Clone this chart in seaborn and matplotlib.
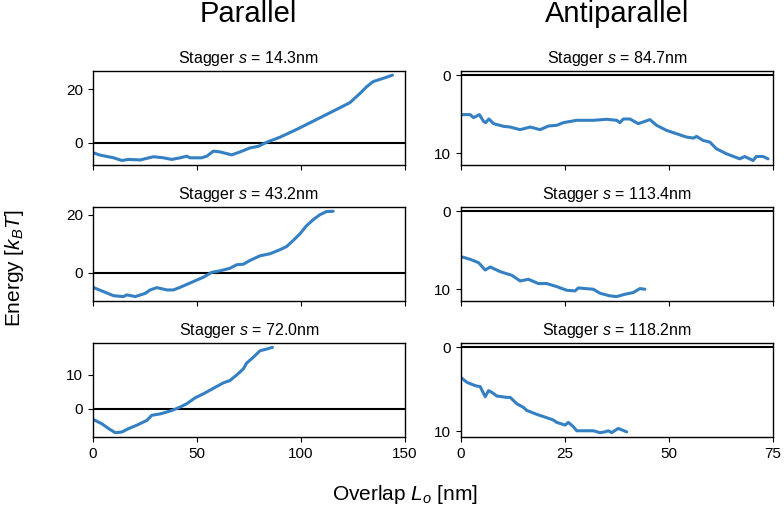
import numpy as np
import pandas as pd
import matplotlib
matplotlib.use("Agg")
import matplotlib.pyplot as plt
import seaborn as sns

# ============================
# DATA
# ============================
staggers_par = [14.3, 43.2, 72.0]
staggers_anti = [84.7, 113.4, 118.2]

par1_x = [0, 3.5, 9.9, 13.9, 17.1, 22.7, 29.1, 33.9, 37.9, 41.9, 45.1, 46.7, 52.3, 54.7, 57.9,
          61.1, 66.7, 70.7, 75.5, 79.5, 83.5, 89.9, 97.9, 105.9, 112.3, 118.7, 123.5, 128.3,
          131.5, 134.7, 139.5, 144.0]
par1_y = [-3.7, -4.6, -5.6, -6.6, -6.2, -6.4, -5.2, -5.6, -6.2, -5.6, -5.0, -5.6, -5.6, -5.0, -3.1,
          -3.4, -4.5, -3.4, -1.9, -1.3, 0.2, 2.1, 5.0, 8.1, 10.6, 13.1, 15.0, 18.4,
          20.9, 22.9, 24.1, 25.3]

par2_x = [0, 5.1, 9.9, 14.7, 16.3, 20.3, 25.1, 27.5, 30.7, 35.5, 38.7, 41.9, 48.3, 53.1, 57.1,
          61.1, 65.9, 69.1, 72.3, 75.5, 80.3, 85.1, 89.9, 93.1, 96.3, 99.5, 102.7, 105.9,
          109.1, 112.3, 115.5]
par2_y = [-5.1, -6.6, -8.0, -8.3, -7.7, -8.3, -7.2, -6.0, -5.2, -6.0, -6.0, -5.1, -3.1, -1.6, 0.1,
          0.6, 1.5, 2.7, 2.9, 4.2, 5.8, 6.5, 7.9, 9.0, 11.1, 13.4, 16.2, 18.3,
          20.0, 21.1, 21.2]

par3_x = [0, 4.3, 7.5, 10.7, 13.9, 17.1, 21.1, 25.9, 28.3, 32.3, 37.9, 41.9, 45.1, 49.1, 53.1,
          57.9, 62.7, 65.9, 69.1, 72.3, 73.9, 77.1, 80.3, 83.5, 86.3]
par3_y = [-3.1, -4.4, -5.8, -7.0, -6.8, -5.8, -4.8, -3.4, -1.9, -1.5, -0.5, 0.5, 1.5, 3.2, 4.4,
          6.0, 7.6, 8.3, 9.9, 11.7, 13.4, 15.1, 17.0, 17.5, 18.0]

anti1_x = [0, 2.2, 3.0, 4.4, 5.4, 5.9, 6.7, 7.8, 10.2, 11.8, 14.2, 16.6, 19.0, 21.0, 23.0, 24.6,
           27.8, 31.8, 35.0, 37.4, 38.2, 39.0, 40.6, 42.6, 45.4, 47.0, 49.4, 51.8, 54.2, 55.9,
           56.6, 58.2, 59.8, 61.4, 63.8, 67.0, 68.2, 70.2, 71.0, 72.6, 73.8]
anti1_y = [5.06, 5.06, 5.45, 5.06, 5.92, 6.09, 5.62, 6.22, 6.56, 6.65, 6.99, 6.65, 6.99, 6.52,
           6.43, 6.09, 5.79, 5.79, 5.66, 5.79, 6.09, 5.62, 5.62, 6.22, 5.70, 6.43, 7.08, 7.51,
           7.94, 8.07, 7.85, 8.37, 8.58, 9.44, 10.08, 10.73, 10.43, 10.94, 10.43, 10.43, 10.73]

anti2_x = [0, 2.2, 4.2, 5.8, 7.0, 9.4, 12.2, 14.2, 16.2, 18.6, 20.6, 23.0, 25.4, 27.4, 28.2, 31.8,
           33.4, 35.8, 37.4, 39.4, 41.4, 43.0, 44.2]
anti2_y = [5.83, 6.17, 6.6, 7.54, 7.15, 7.75, 8.22, 8.94, 8.73, 9.28, 9.28, 9.67, 10.14, 10.22,
           9.84, 10.01, 10.52, 10.86, 10.95, 10.65, 10.43, 9.92, 10.01]

anti3_x = [0, 1.4, 3.4, 4.6, 5.8, 6.6, 7.4, 8.6, 11.0, 11.8, 13.4, 15.0, 15.8, 18.2, 20.6, 22.2,
           23.0, 25.0, 25.8, 27.0, 27.8, 30.2, 31.8, 33.4, 34.6, 35.4, 36.2, 37.8, 39.8]
anti3_y = [3.62, 4.18, 4.58, 4.7, 5.9, 5.18, 5.38, 5.82, 5.98, 5.98, 6.74, 7.18, 7.54, 8.01, 8.41,
           8.69, 8.97, 9.29, 8.97, 9.49, 9.97, 9.97, 9.97, 10.2, 10.1, 9.97, 10.2, 9.69, 10.1]

par_data = [(par1_x, par1_y), (par2_x, par2_y), (par3_x, par3_y)]
anti_data = [(anti1_x, anti1_y), (anti2_x, anti2_y), (anti3_x, anti3_y)]
par_yticks = [[0, 20], [0, 20], [0, 10]]

# ============================
# STYLE
# ============================
sns.set_style("ticks", {"axes.edgecolor": "black", "xtick.color": "black", "ytick.color": "black",
                        "text.color": "black", "axes.labelcolor": "black"})
plt.rcParams['font.family'] = ['Liberation Sans', 'DejaVu Sans']
plt.rcParams['mathtext.fontset'] = 'custom'
plt.rcParams['mathtext.rm'] = 'Liberation Sans'
plt.rcParams['mathtext.it'] = 'Liberation Sans:italic'
plt.rcParams['xtick.labelsize'] = 11
plt.rcParams['ytick.labelsize'] = 11
plt.rcParams['axes.linewidth'] = 1.0

line_color = "#3480c2"

fig, axes = plt.subplots(3, 2, figsize=(7.84, 5.29), dpi=100, sharex='col')
fig.subplots_adjust(left=0.1186, right=0.986, top=0.866, bottom=0.174, wspace=0.18, hspace=0.45)

# ============================
# PAINEIS
# ============================
for i in range(3):
    ax = axes[i, 0]
    x, y = par_data[i]
    ax.axhline(0, color='black', lw=1.5)
    sns.lineplot(x=x, y=y, ax=ax, color=line_color, lw=2.2, estimator=None, sort=False)
    ax.set_title(f"Stagger $s$ = {staggers_par[i]:.1f}nm", fontsize=11.5)
    ax.set_yticks(par_yticks[i])
    ax.set_xlim(0, 150)
    ax.set_xticks([0, 50, 100, 150])

    ax = axes[i, 1]
    x, y = anti_data[i]
    ax.axhline(0, color='black', lw=1.5)
    sns.lineplot(x=x, y=y, ax=ax, color=line_color, lw=2.2, estimator=None, sort=False)
    ax.set_title(f"Stagger $s$ = {staggers_anti[i]:.1f}nm", fontsize=11.5)
    ax.set_yticks([0, 10])
    ax.invert_yaxis()
    ax.set_xlim(0, 75)
    ax.set_xticks([0, 25, 50, 75])

for ax in axes.flat:
    ax.set_xlabel("")
    ax.set_ylabel("")

fig.text(0.317, 0.958, "Parallel", ha='center', va='baseline', fontsize=21)
fig.text(0.787, 0.958, "Antiparallel", ha='center', va='baseline', fontsize=21)
fig.text(0.018, 0.493, "Energy [$k_B T$]", ha='center', va='center', rotation=90, fontsize=15)
fig.text(0.517, 0.066, "Overlap $L_o$ [nm]", ha='center', va='center', fontsize=15)

plt.savefig("out.png", dpi=100)
